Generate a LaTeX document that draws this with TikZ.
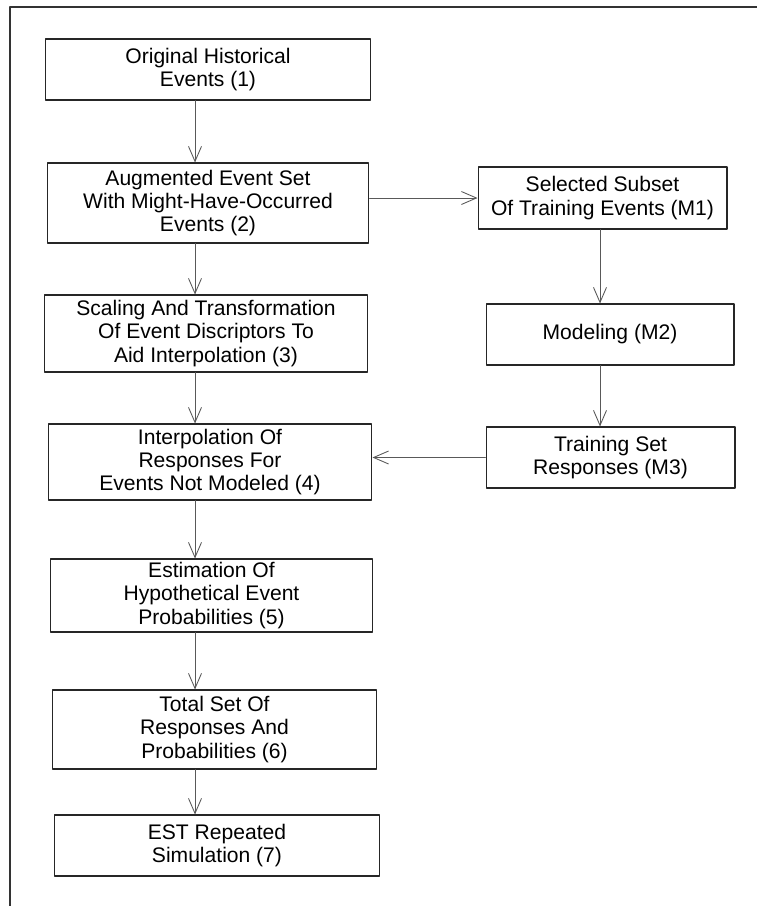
\documentclass[tikz,border=0pt]{standalone}
\usepackage{fontspec}
\setmainfont{Liberation Sans}
\usetikzlibrary{arrows.meta}

\begin{document}
\begin{tikzpicture}[line cap=round,line join=round,>={Straight Barb[length=3mm,width=2.6mm]},x=0.02cm,y=-0.02cm,
  stepbox/.style={draw=black!85,line width=0.6pt,align=center,inner sep=0pt,font=\fontsize{12}{13.2}\selectfont},
  link/.style={->,draw=black!65,line width=0.5pt}]
\useasboundingbox (0,0) rectangle (757,906);
\draw [line width=0.6pt,black!80] (10,906) -- (10,7) -- (757,7);
% left column
\node[stepbox,minimum width=6.52cm,minimum height=1.22cm] (b1) at (208,69.5) {Original Historical\\Events (1)};
\node[stepbox,minimum width=6.44cm,minimum height=1.6cm] (b2) at (208,203) {Augmented Event Set\\With Might-Have-Occurred\\Events (2)};
\node[stepbox,minimum width=6.48cm,minimum height=1.54cm] (b3) at (206,333.5) {Scaling And Transformation\\Of Event Discriptors To\\Aid Interpolation (3)};
\node[stepbox,minimum width=6.48cm,minimum height=1.52cm] (b4) at (210,462) {Interpolation Of\\Responses For\\Events Not Modeled (4)};
\node[stepbox,minimum width=6.46cm,minimum height=1.46cm] (b5) at (211.5,595.5) {Estimation Of\\Hypothetical Event\\Probabilities (5)};
\node[stepbox,minimum width=6.5cm,minimum height=1.58cm] (b6) at (214.5,729.5) {Total Set Of\\Responses And\\Probabilities (6)};
\node[stepbox,minimum width=6.52cm,minimum height=1.22cm] (b7) at (217,845.5) {EST Repeated\\Simulation (7)};
% right column
\node[stepbox,minimum width=4.98cm,minimum height=1.24cm] (m1) at (602.5,198) {Selected Subset\\Of Training Events (M1)};
\node[stepbox,minimum width=4.96cm,minimum height=1.22cm] (m2) at (610,334.5) {Modeling (M2)};
\node[stepbox,minimum width=4.98cm,minimum height=1.22cm] (m3) at (610.5,457.5) {Training Set\\Responses (M3)};
\coordinate (lc) at (195,0);
\coordinate (rc) at (600,0);
% connectors
\draw[link] (b1.south -| lc) -- (b2.north -| lc);
\draw[link] (b2.south -| lc) -- (b3.north -| lc);
\draw[link] (b3.south -| lc) -- (b4.north -| lc);
\draw[link] (b4.south -| lc) -- (b5.north -| lc);
\draw[link] (b5.south -| lc) -- (b6.north -| lc);
\draw[link] (b6.south -| lc) -- (b7.north -| lc);
\draw[link] (m1.south -| rc) -- (m2.north -| rc);
\draw[link] (m2.south -| rc) -- (m3.north -| rc);
\draw[link] (b2.east |- m1.west) -- (m1.west);
\draw[link] (m3.west) -- (b4.east |- m3.west);
\end{tikzpicture}
\end{document}
